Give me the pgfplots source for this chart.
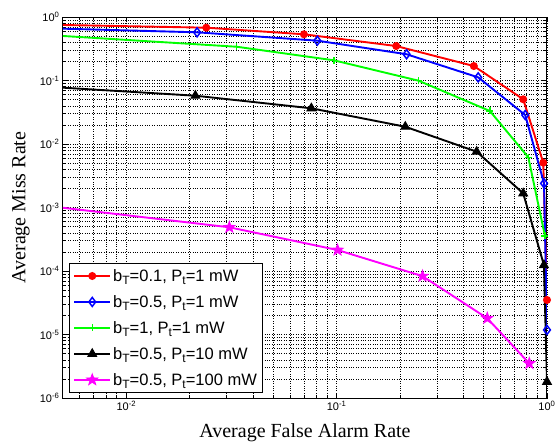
\documentclass[border=0pt]{standalone}
\usepackage{pgfplots}
\pgfplotsset{compat=1.18}
\usepackage{fontspec}
\setmainfont{Liberation Serif}
\newfontfamily\arial{Liberation Sans}
\definecolor{mred}{rgb}{1,0,0}
\definecolor{mblue}{rgb}{0,0,1}
\definecolor{mgreen}{rgb}{0,1,0}
\definecolor{mmag}{rgb}{1,0,1}

% filled five-pointed star, like matlab's 'p'
\pgfdeclareplotmark{pentagram}{%
  \pgfpathmoveto{\pgfpointpolar{90}{\pgfplotmarksize}}%
  \pgfpathlineto{\pgfpointpolar{126}{0.4\pgfplotmarksize}}%
  \pgfpathlineto{\pgfpointpolar{162}{\pgfplotmarksize}}%
  \pgfpathlineto{\pgfpointpolar{198}{0.4\pgfplotmarksize}}%
  \pgfpathlineto{\pgfpointpolar{234}{\pgfplotmarksize}}%
  \pgfpathlineto{\pgfpointpolar{270}{0.4\pgfplotmarksize}}%
  \pgfpathlineto{\pgfpointpolar{306}{\pgfplotmarksize}}%
  \pgfpathlineto{\pgfpointpolar{342}{0.4\pgfplotmarksize}}%
  \pgfpathlineto{\pgfpointpolar{18}{\pgfplotmarksize}}%
  \pgfpathlineto{\pgfpointpolar{54}{0.4\pgfplotmarksize}}%
  \pgfpathclose\pgfusepathqfillstroke}
\newcommand\sub[1]{\raisebox{-0.35ex}{\fontsize{12}{12}\selectfont #1}}

\begin{document}
\begin{tikzpicture}
\useasboundingbox (-63pt,-46pt) rectangle (495pt,398pt);
\begin{axis}[
  xmode=log, ymode=log,
  scale only axis, width=484pt, height=381pt,
  xmin=0.005, xmax=1, ymin=1e-6, ymax=1,
  xtick={0.01,0.1,1},
  xticklabels={10\textsuperscript{-2},10\textsuperscript{-1},10\textsuperscript{0}},
  ytick={1e-6,1e-5,1e-4,1e-3,1e-2,1e-1,1},
  yticklabels={10\textsuperscript{-6},10\textsuperscript{-5},10\textsuperscript{-4},10\textsuperscript{-3},10\textsuperscript{-2},10\textsuperscript{-1},10\textsuperscript{0}},
  minor xtick={0.006,0.007,0.008,0.009,0.02,0.03,0.04,0.05,0.06,0.07,0.08,0.09,0.2,0.3,0.4,0.5,0.6,0.7,0.8,0.9},
  minor ytick={2e-6,3e-6,4e-6,5e-6,6e-6,7e-6,8e-6,9e-6,
    2e-5,3e-5,4e-5,5e-5,6e-5,7e-5,8e-5,9e-5,
    2e-4,3e-4,4e-4,5e-4,6e-4,7e-4,8e-4,9e-4,
    2e-3,3e-3,4e-3,5e-3,6e-3,7e-3,8e-3,9e-3,
    2e-2,3e-2,4e-2,5e-2,6e-2,7e-2,8e-2,9e-2,
    2e-1,3e-1,4e-1,5e-1,6e-1,7e-1,8e-1,9e-1},
  grid=both,
  major grid style={black, dotted, line width=0.5pt},
  minor grid style={black, dotted, line width=0.5pt},
  tick style={black, line width=0.5pt},
  major tick length=5pt, minor tick length=3pt,
  axis line style={line width=1pt},
  tick label style={font=\arial\fontsize{11}{13}\selectfont},
  xlabel={Average False Alarm Rate},
  ylabel={Average Miss Rate},
  label style={font=\fontsize{20}{24}\selectfont},
  xlabel style={at={(axis description cs:0.5,-0.0906)}, anchor=center},
  ylabel style={at={(axis description cs:-0.0868,0.5)}, anchor=center},
  legend cell align=left,
  legend style={at={(axis description cs:0.012,0.013)}, anchor=south west,
    draw=black, line width=1pt, font=\arial\fontsize{16.5}{19}\selectfont,
    row sep=8.5pt, inner sep=4pt},
  legend image code/.code={\draw[mark repeat=2,mark phase=2,#1]
    plot coordinates {(0pt,0pt) (18pt,0pt) (36pt,0pt)};},
  every axis plot/.append style={line width=1.9pt},
]
\addplot[mred, mark=*, mark size=3pt, mark options={solid}] coordinates {
  (0.004,0.759) (0.0240,0.679) (0.0699,0.534) (0.192,0.349) (0.449,0.169)
  (0.771,0.0506) (0.960,0.00508) (1,3.5e-5)};
\addlegendentry{b\sub{T}=0.1, P\sub{t}=1 mW}
\addplot[mblue, mark=diamond, mark size=4.5pt, mark options={solid, line width=1.5pt}] coordinates {
  (0.004,0.668) (0.0217,0.574) (0.0809,0.424) (0.215,0.259) (0.471,0.112)
  (0.788,0.0286) (0.968,0.0024) (1,1.18e-5)};
\addlegendentry{b\sub{T}=0.5, P\sub{t}=1 mW}
\addplot[mgreen, mark=+, mark size=3.5pt, mark options={solid, line width=1.4pt}] coordinates {
  (0.004,0.526) (0.0335,0.340) (0.097,0.208) (0.245,0.0993) (0.535,0.0331)
  (0.815,0.00618) (0.978,3.56e-4)};
\addlegendentry{b\sub{T}=1, P\sub{t}=1 mW}
\addplot[black, mark=triangle*, mark size=5pt, mark options={solid, line width=1pt}] coordinates {
  (0.004,0.0806) (0.0213,0.0576) (0.0758,0.0365) (0.212,0.0187) (0.463,0.00757)
  (0.771,0.00167) (0.967,1.24e-4) (1,1.8e-6)};
\addlegendentry{b\sub{T}=0.5, P\sub{t}=10 mW}
\addplot[mmag, mark=pentagram, mark size=6pt, mark options={solid, line width=0.8pt}] coordinates {
  (0.004,1.08e-3) (0.0309,4.88e-4) (0.101,2.14e-4) (0.256,8.3e-5) (0.520,1.80e-5)
  (0.824,3.5e-6)};
\addlegendentry{b\sub{T}=0.5, P\sub{t}=100 mW}
\end{axis}
\end{tikzpicture}
\end{document}
